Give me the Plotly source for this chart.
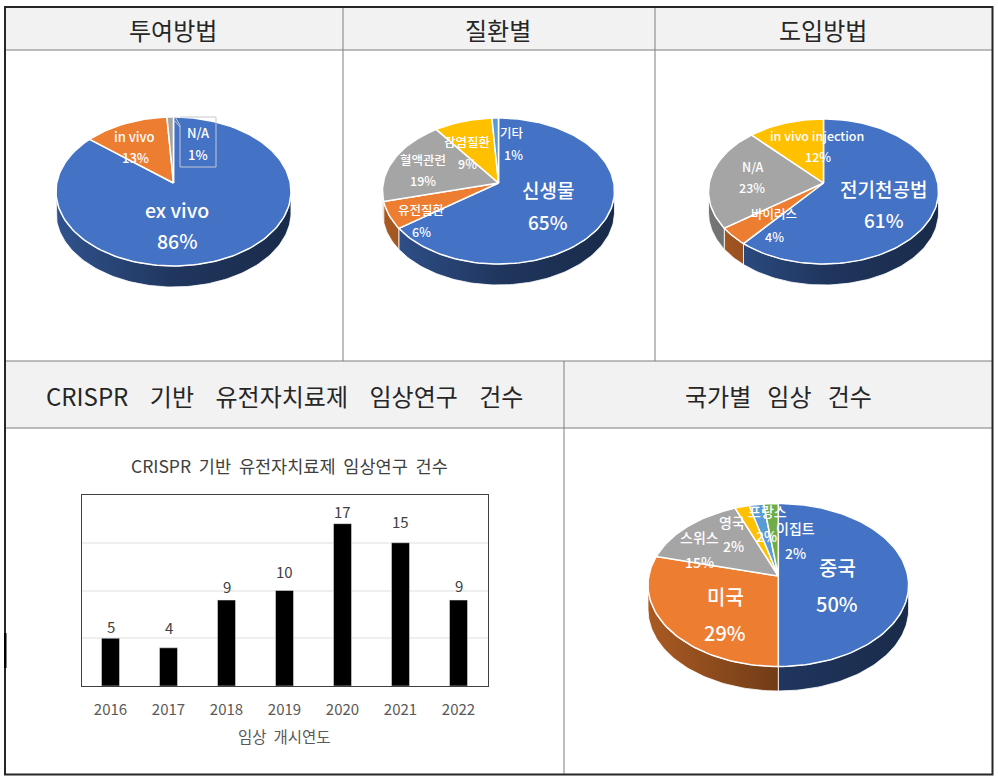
import math
import plotly.graph_objects as go

# data
method_names = ['ex vivo', 'in vivo', 'N/A']
method_values = [86, 13, 1]
disease_names = ['신생물', '유전질환', '혈액관련', '감염질환', '기타']
disease_values = [65, 6, 19, 9, 1]
delivery_names = ['전기천공법', '바이러스', 'N/A', 'in vivo injection']
delivery_values = [61, 4, 23, 12]
country_names = ['중국', '미국', '스위스', '영국', '프랑스', '이집트']
country_values = [50, 29, 15, 2, 2, 2]
years = ['2016', '2017', '2018', '2019', '2020', '2021', '2022']
trials = [5, 4, 9, 10, 17, 15, 9]

FONT = 'Noto Sans CJK KR'
BLUE, ORANGE, GRAY, YELLOW, SKY, GREEN = '#4472c4', '#ed7d31', '#a5a5a5', '#ffc000', '#5b9bd5', '#70ad47'


def shade(color, f):
    r, g, b = int(color[1:3], 16), int(color[3:5], 16), int(color[5:7], 16)
    return f'rgb({int(r * f)},{int(g * f)},{int(b * f)})'


def pie_point(p, theta, drop=0):
    # perspective view of a round pie, the apex sits above the ellipse centre
    k = p['k']
    s, c = math.sin(theta), math.cos(theta)
    d = 1 + k * c
    return p['cx'] + p['a'] * s / d, p['ay'] - p['b'] * c / d + drop


def add_pie(fig, p, values, colors):
    total = sum(values)
    k = p['k']
    edge = math.acos(-k)
    left, right = p['cx'] - p['rx'], p['cx'] + p['rx']
    walls, tops = [], []
    start = 0
    for v, col in zip(values, colors):
        a0, a1 = start, start + v / total * 2 * math.pi
        start = a1
        n = max(3, int(v * 2))
        arc = [a0 + (a1 - a0) * i / n for i in range(n + 1)]
        pts = [pie_point(p, t) for t in arc]
        tops.append(go.Scatter(
            x=[p['cx']] + [q[0] for q in pts] + [p['cx']],
            y=[p['ay']] + [q[1] for q in pts] + [p['ay']],
            mode='lines', fill='toself', fillcolor=col,
            line=dict(color='white', width=1.5), hoverinfo='skip', showlegend=False))
        w0, w1 = max(a0, edge), min(a1, 2 * math.pi - edge)
        if w1 > w0:
            m = max(3, int((w1 - w0) * 40))
            arc = [w0 + (w1 - w0) * i / m for i in range(m + 1)]
            up = [pie_point(p, t) for t in arc]
            down = [pie_point(p, t, p['depth']) for t in reversed(arc)]
            walls.append(go.Scatter(
                x=[q[0] for q in up + down] + [up[0][0]],
                y=[q[1] for q in up + down] + [up[0][1]],
                mode='lines', fill='toself',
                fillgradient=dict(type='horizontal', start=left, stop=right,
                                  colorscale=[[0, shade(col, 0.72)], [0.5, shade(col, 0.48)], [1, shade(col, 0.38)]]),
                line=dict(color='white', width=0.8), hoverinfo='skip', showlegend=False))
    fig.add_traces(walls + tops)


def make_pie(rx, cx, top, bottom, apex, depth):
    k = ((bottom - apex) - (apex - top)) / ((bottom - apex) + (apex - top))
    b = (apex - top) * (1 + k)
    return dict(cx=cx, rx=rx, a=rx * math.sqrt(1 - k * k), b=b, k=k, ay=apex, depth=depth)


fig = go.Figure()

add_pie(fig, make_pie(117.5, 173.5, 117, 266, 183, 21), method_values, [BLUE, ORANGE, GRAY])
add_pie(fig, make_pie(116, 498.5, 118, 264, 183, 21), disease_values, [BLUE, ORANGE, GRAY, YELLOW, SKY])
add_pie(fig, make_pie(115, 823.5, 119, 264, 183, 21), delivery_values, [BLUE, ORANGE, GRAY, YELLOW])
add_pie(fig, make_pie(130.3, 778.3, 503.5, 666.5, 576, 24.5), country_values, [BLUE, ORANGE, GRAY, YELLOW, SKY, GREEN])

# bar chart on its own axes
fig.add_trace(go.Bar(x=years, y=trials, marker_color='black', width=0.31, xaxis='x2', yaxis='y2',
                     hoverinfo='skip', showlegend=False))


def note(x, y, text, size, color='white', weight=400):
    fig.add_annotation(x=x, y=y, xref='x', yref='y', text=text, showarrow=False,
                       xanchor='center', yanchor='middle',
                       font=dict(family=FONT, size=size, color=color, weight=weight))


# headers
HEAD = '#262626'
note(173, 29, '투여방법', 24, HEAD)
note(498, 29, '질환별', 24, HEAD)
note(823, 29, '도입방법', 24, HEAD)
note(284, 395, ('\u00a0' * 4).join(['CRISPR', '기반', '유전자치료제', '임상연구', '건수']), 24, HEAD)
note(778, 395, ('\u00a0' * 3).join(['국가별', '임상', '건수']), 24, HEAD)

# pie labels: name position, percent position, font size
method_pos = [(177, 209, 177, 240, 19.5), (134, 136, 135, 157, 13), (198, 132, 198, 154, 13)]
disease_pos = [(548, 189, 548, 221, 19), (421, 209, 421, 231, 12.5), (423, 159, 423, 180, 12.5),
               (467, 141, 467, 163, 12.5), (512, 132, 513, 154, 12.5)]
delivery_pos = [(883, 188, 884, 219, 19), (774, 213, 774, 236, 12.5), (752, 166, 752, 187, 12.5),
                (817, 135, 818, 156, 12.5)]
country_pos = [(837, 567, 837, 603, 20), (725, 596, 725, 632, 20), (699, 537, 699, 562, 14),
               (732, 522, 733, 546, 14), (767, 511, 766, 536, 14), (795, 528, 795, 553, 14)]

for names, values, pos in [(method_names, method_values, method_pos),
                           (disease_names, disease_values, disease_pos),
                           (delivery_names, delivery_values, delivery_pos),
                           (country_names, country_values, country_pos)]:
    for name, v, (x1, y1, x2, y2, size) in zip(names, values, pos):
        note(x1, y1, name, size, weight=500)
        note(x2, y2, f'{v}%', size, weight=500)

# bar chart texts
note(289, 465, ('\u00a0' * 2).join(['CRISPR', '기반', '유전자치료제', '임상연구', '건수']), 17.5, '#404040')
note(284, 736, '임상\u00a0\u00a0개시연도', 15.5, '#595959')
label_lift = [12, 20, 14, 19, 12, 21, 15]
for i, (v, lift) in enumerate(zip(trials, label_lift)):
    fig.add_annotation(x=i, y=v, xref='x2', yref='y2', text=str(v), showarrow=False, yshift=lift,
                       yanchor='middle', font=dict(family=FONT, size=15, color='#404040'))

# panel frame
LINE = '#7f7f7f'
shapes = [
    dict(type='rect', x0=5, x1=992, y0=8, y1=50, fillcolor='#f2f2f2', line_width=0, layer='below'),
    dict(type='rect', x0=5, x1=992, y0=361, y1=428, fillcolor='#f2f2f2', line_width=0, layer='below'),
]
for x0, y0, x1, y1 in [(5, 50, 992, 50), (5, 361, 992, 361), (5, 428, 992, 428),
                       (343, 8, 343, 361), (655, 8, 655, 361), (564, 361, 564, 774)]:
    shapes.append(dict(type='line', x0=x0, y0=y0, x1=x1, y1=y1, line=dict(color=LINE, width=1), layer='below'))
shapes.append(dict(type='rect', x0=5, x1=992.5, y0=7, y1=774.5, line=dict(color='#262626', width=2), layer='below'))
shapes.append(dict(type='rect', x0=4, x1=6.5, y0=633, y1=668, fillcolor='black', line_width=0, layer='below'))
# callout box of the N/A label
shapes.append(dict(type='path', path='M 175 117 L 180 125 L 180 167 L 216 167 L 216 117 L 180 117 M 175 121 L 180 127',
                   line=dict(color='#c4c8d0', width=1)))
for s in shapes:
    s.update(xref='x', yref='y')

fig.update_layout(
    width=998, height=781, margin=dict(l=0, r=0, t=0, b=0),
    paper_bgcolor='white', plot_bgcolor='rgba(0,0,0,0)',
    shapes=shapes,
    font=dict(family=FONT),
    xaxis=dict(range=[0, 998], visible=False, domain=[0, 1], automargin=False),
    yaxis=dict(range=[781, 0], visible=False, domain=[0, 1], automargin=False),
    xaxis2=dict(domain=[81.5 / 998, 487.5 / 998], anchor='y2', type='category', range=[-0.5, 6.5],
                automargin=False, showline=True, mirror=True, linecolor='#404040', linewidth=1, showgrid=False,
                ticks='outside', ticklen=10, tickcolor='rgba(0,0,0,0)',
                tickfont=dict(family=FONT, size=15, color='#595959')),
    yaxis2=dict(domain=[1 - 686 / 781, 1 - 495 / 781], anchor='x2', range=[0, 20], dtick=5, automargin=False,
                showline=True, mirror=True, linecolor='#404040', linewidth=1,
                showgrid=True, gridcolor='#efefef', gridwidth=1.5, showticklabels=False, ticks='', zeroline=False),
)

fig.write_html("out.html", config=dict(displayModeBar=False), post_script="document.body.style.margin='0';")
